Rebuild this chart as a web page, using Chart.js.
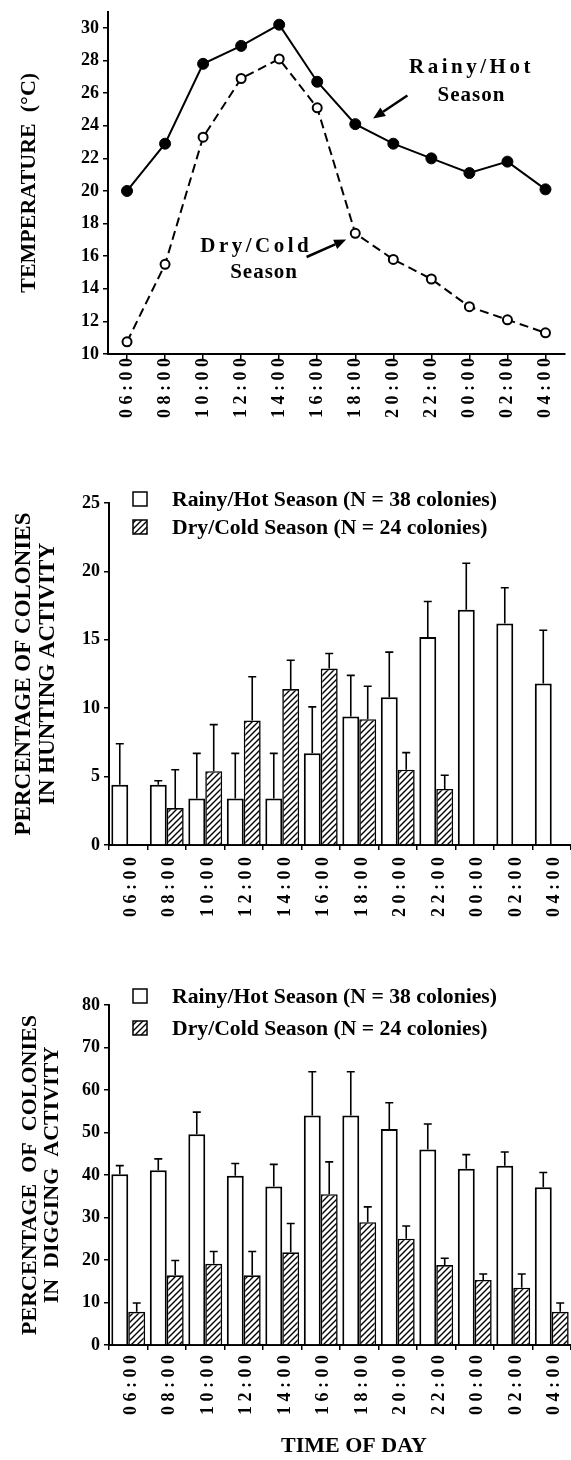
<!DOCTYPE html>
<html><head><meta charset="utf-8">
<script src="https://cdn.jsdelivr.net/npm/chart.js@4/dist/chart.umd.min.js"></script>
<style>
html,body{margin:0;padding:0;background:#fff;}
body{width:571px;height:1460px;position:relative;overflow:hidden;}
canvas{position:absolute;left:0;}
</style></head><body>
<canvas id="c1" width="571" height="440" style="top:0px"></canvas>
<canvas id="c2" width="571" height="490" style="top:440px"></canvas>
<canvas id="c3" width="571" height="530" style="top:930px"></canvas>
<script>
// ---------- data ----------
const timeLabels = ['06:00','08:00','10:00','12:00','14:00','16:00','18:00','20:00','22:00','00:00','02:00','04:00'];

const tempTicks = [10,12,14,16,18,20,22,24,26,28,30];
const tempRainy = [20.0, 22.9, 27.8, 28.9, 30.2, 26.7, 24.1, 22.9, 22.0, 21.1, 21.8, 20.1];
const tempDry   = [10.75, 15.5, 23.3, 26.9, 28.1, 25.1, 17.4, 15.8, 14.6, 12.9, 12.1, 11.3];

const huntTicks = [0,5,10,15,20,25];
const huntRainy    = [4.4, 4.4, 3.4, 3.4, 3.4, 6.7, 9.4, 10.8, 15.2, 17.2, 16.2, 11.8];
const huntRainyErr = [3.0, 0.3, 3.3, 3.3, 3.3, 3.4, 3.0, 3.3, 2.6, 3.4, 2.6, 3.9];
const huntDry      = [null, 2.7, 5.4, 9.1, 11.4, 12.9, 9.2, 5.5, 4.1, null, null, null];
const huntDryErr   = [null, 2.8, 3.4, 3.2, 2.1, 1.1, 2.4, 1.25, 1.0, null, null, null];

const digTicks = [0,10,20,30,40,50,60,70,80];
const digRainy    = [40.2, 41.1, 49.6, 39.8, 37.3, 54.0, 54.0, 50.8, 46.0, 41.5, 42.2, 37.1];
const digRainyErr = [2.0, 2.7, 5.2, 2.9, 5.2, 10.3, 10.3, 6.2, 6.0, 3.3, 3.2, 3.5];
const digDry      = [7.8, 16.4, 19.1, 16.4, 21.8, 35.5, 28.9, 25.0, 18.8, 15.3, 13.5, 7.8];
const digDryErr   = [2.1, 3.5, 2.9, 5.6, 6.8, 7.6, 3.6, 3.0, 1.6, 1.4, 3.2, 2.1];

const legendRainy = 'Rainy/Hot Season (N = 38 colonies)';
const legendDry   = 'Dry/Cold Season (N = 24 colonies)';

// ---------- styling helpers ----------
const FAM = "'Liberation Serif','Times New Roman',serif";
const BLACK = '#000';

function hatchPattern(canvasId) {
  const c = document.createElement('canvas'); c.width = 6; c.height = 6;
  const g = c.getContext('2d');
  g.fillStyle = '#fff'; g.fillRect(0,0,6,6);
  g.strokeStyle = BLACK; g.lineWidth = 1.4; g.beginPath();
  g.moveTo(0,6); g.lineTo(6,0);
  g.moveTo(-1,1); g.lineTo(1,-1);
  g.moveTo(5,7); g.lineTo(7,5);
  g.stroke();
  return document.getElementById(canvasId).getContext('2d').createPattern(c, 'repeat');
}

const xLabelPlugin = {
  id: 'xlabels',
  afterDraw(chart, args, opts) {
    const sx = chart.scales.x, ctx = chart.ctx;
    ctx.save();
    ctx.font = 'bold 18px ' + FAM;
    ctx.letterSpacing = opts.spacing + 'px';
    ctx.fillStyle = BLACK;
    ctx.textAlign = 'right'; ctx.textBaseline = 'middle';
    sx.ticks.forEach((t, i) => {
      const x = sx.getPixelForTick(i) + opts.dx;
      const y = chart.chartArea.bottom + opts.gap;
      ctx.save(); ctx.translate(x, y); ctx.rotate(-Math.PI/2);
      ctx.fillText(chart.data.labels[i], opts.spacing, 0);
      ctx.restore();
    });
    ctx.restore();
  }
};

const errorBarPlugin = {
  id: 'errbars',
  afterDatasetsDraw(chart) {
    const ctx = chart.ctx, sy = chart.scales.y;
    chart.data.datasets.forEach((ds, di) => {
      if (!ds.errors) return;
      const meta = chart.getDatasetMeta(di);
      meta.data.forEach((bar, i) => {
        const v = ds.data[i], e = ds.errors[i];
        if (v == null || e == null) return;
        const x = bar.x, y0 = sy.getPixelForValue(v), y1 = sy.getPixelForValue(v + e);
        ctx.save(); ctx.strokeStyle = BLACK; ctx.lineWidth = 1.6;
        ctx.beginPath(); ctx.moveTo(x, y0); ctx.lineTo(x, y1);
        ctx.moveTo(x - 4, y1); ctx.lineTo(x + 4, y1); ctx.stroke();
        ctx.restore();
      });
    });
  }
};

const boxLegendPlugin = {
  id: 'boxlegend',
  afterDraw(chart, args, opts) {
    const ctx = chart.ctx, top = chart.chartArea.top;
    chart.data.datasets.forEach((ds, i) => {
      const cy = top + opts.rows[i];
      ctx.save();
      ctx.fillStyle = ds.backgroundColor;
      ctx.fillRect(opts.boxX, cy - 7, 14, 14);
      ctx.strokeStyle = BLACK; ctx.lineWidth = 1.5;
      ctx.strokeRect(opts.boxX, cy - 7, 14, 14);
      ctx.font = 'bold 21.7px ' + FAM;
      ctx.fillStyle = BLACK; ctx.textBaseline = 'middle'; ctx.textAlign = 'left';
      ctx.fillText(ds.label, opts.textX, cy + 1);
      ctx.restore();
    });
  }
};

const annotPlugin = {
  id: 'annot',
  afterDatasetsDraw(chart, args, opts) {
    if (!opts.texts) return;
    const ctx = chart.ctx, sx = chart.scales.x, sy = chart.scales.y;
    const P = a => [sx.getPixelForValue(a[0]), sy.getPixelForValue(a[1])];
    opts.texts.forEach(t => {
      const [x, y] = P(t.at);
      ctx.save(); ctx.font = 'bold 21px ' + FAM; ctx.letterSpacing = t.spacing + 'px';
      ctx.fillStyle = BLACK; ctx.textAlign = 'center'; ctx.textBaseline = 'middle';
      ctx.fillText(t.text, x + t.spacing / 2, y); ctx.restore();
    });
    opts.arrows.forEach(a => {
      const [x0, y0] = P(a.from), [x1, y1] = P(a.to);
      const ang = Math.atan2(y1 - y0, x1 - x0), L = 12, W = 5;
      const bx = x1 - L * Math.cos(ang), by = y1 - L * Math.sin(ang);
      ctx.save(); ctx.strokeStyle = BLACK; ctx.fillStyle = BLACK; ctx.lineWidth = 2.5;
      ctx.beginPath(); ctx.moveTo(x0, y0); ctx.lineTo(bx, by); ctx.stroke();
      ctx.beginPath(); ctx.moveTo(x1, y1);
      ctx.lineTo(bx + W * Math.sin(ang), by - W * Math.cos(ang));
      ctx.lineTo(bx - W * Math.sin(ang), by + W * Math.cos(ang));
      ctx.closePath(); ctx.fill(); ctx.restore();
    });
  }
};

const titlePlugin = {
  id: 'xtitle',
  afterDraw(chart, args, opts) {
    if (!opts.text) return;
    const ctx = chart.ctx, ca = chart.chartArea;
    ctx.save();
    ctx.font = 'bold 22px ' + FAM; ctx.fillStyle = BLACK;
    ctx.textAlign = 'center'; ctx.textBaseline = 'middle';
    ctx.fillText(opts.text, (ca.left + ca.right) / 2 + opts.dx, ca.bottom + opts.dy);
    ctx.restore();
  }
};

function axisGrid() {
  return { drawOnChartArea: false, drawTicks: true, tickLength: 5, color: BLACK, lineWidth: 1.5 };
}
function yAxis(min, max, tickArr, width, titleText, titleSize, titleLH, titlePad) {
  return {
    min: min, max: max,
    afterBuildTicks: s => { s.ticks = tickArr.map(v => ({ value: v })); },
    ticks: { color: BLACK, padding: 4, font: { family: FAM, size: 18, weight: 'bold', lineHeight: 0.85 } },
    grid: axisGrid(),
    border: { color: BLACK, width: 2 },
    title: { display: true, text: titleText, color: BLACK,
             font: { family: FAM, size: titleSize, weight: 'bold', lineHeight: titleLH },
             padding: { top: titlePad, bottom: 0 } },
    afterFit: s => { s.width = width; }
  };
}
function xAxis(height) {
  return {
    offset: true,
    ticks: { display: false },
    grid: axisGrid(),
    border: { color: BLACK, width: 2 },
    afterFit: s => { s.height = height; }
  };
}
const common = { responsive: false, animation: false, events: [] };

// ---------- chart 1: temperature ----------
new Chart(document.getElementById('c1'), {
  type: 'line',
  data: { labels: timeLabels, datasets: [
    { label: 'Rainy/Hot Season', data: tempRainy, borderColor: BLACK, borderWidth: 2,
      pointRadius: 5.5, pointBackgroundColor: BLACK, pointBorderColor: BLACK, pointBorderWidth: 1, tension: 0 },
    { label: 'Dry/Cold Season', data: tempDry, borderColor: BLACK, borderWidth: 2, borderDash: [9, 5],
      pointRadius: 4.5, pointBackgroundColor: '#fff', pointBorderColor: BLACK, pointBorderWidth: 2, tension: 0 }
  ]},
  options: Object.assign({}, common, {
    layout: { padding: { top: 8, left: 0, right: 0, bottom: 0 } },
    scales: { x: xAxis(86), y: yAxis(10, 31, tempTicks, 108, 'TEMPERATURE  (°C)', 22, 1.2, 16) },
    plugins: { legend: { display: false }, tooltip: { enabled: false },
      xlabels: { gap: 4, dx: 0, spacing: 4.5 },
      annot: {
        texts: [
          { text: 'Rainy/Hot', at: [9.01, 27.54], spacing: 3.5 },
          { text: 'Season', at: [9.04, 25.84], spacing: 1 },
          { text: 'Dry/Cold', at: [3.35, 16.62], spacing: 3.5 },
          { text: 'Season', at: [3.59, 15.0], spacing: 1 }
        ],
        arrows: [
          { from: [7.37, 25.86], to: [6.47, 24.45] },
          { from: [4.72, 15.95], to: [5.76, 17.02] }
        ]
      }
    }
  }),
  plugins: [xLabelPlugin, annotPlugin]
});

// ---------- bar chart builder ----------
function barChart(id, rainy, rainyErr, dry, dryErr, ymax, ticks, padTop, xH, titleLines, titleSize, titleLH, titlePad, legendRows, labelGap, xtitle) {
  return new Chart(document.getElementById(id), {
    type: 'bar',
    data: { labels: timeLabels, datasets: [
      { label: legendRainy, data: rainy, errors: rainyErr, backgroundColor: '#fff', borderColor: BLACK,
        borderWidth: 2, borderSkipped: 'bottom', categoryPercentage: 0.88, barPercentage: 1.0 },
      { label: legendDry, data: dry, errors: dryErr, backgroundColor: hatchPattern(id), borderColor: BLACK,
        borderWidth: 1.6, borderSkipped: 'bottom', categoryPercentage: 0.88, barPercentage: 1.0 }
    ]},
    options: Object.assign({}, common, {
      layout: { padding: { top: padTop, left: 0, right: 0, bottom: 0 } },
      scales: { x: xAxis(xH), y: yAxis(0, ymax, ticks, 109, titleLines, titleSize, titleLH, titlePad) },
      plugins: { legend: { display: false }, tooltip: { enabled: false },
        xlabels: { gap: labelGap, dx: 3, spacing: 4.5 },
        boxlegend: { rows: legendRows, boxX: 133, textX: 172 },
        xtitle: xtitle
      }
    }),
    plugins: [errorBarPlugin, xLabelPlugin, boxLegendPlugin, titlePlugin]
  });
}

barChart('c2', huntRainy, huntRainyErr, huntDry, huntDryErr, 25, huntTicks, 63, 85,
  ['PERCENTAGE OF COLONIES', 'IN HUNTING ACTIVITY'], 23, 1.04, 12, [-4, 24], 12, {});
barChart('c3', digRainy, digRainyErr, digDry, digDryErr, 80, digTicks, 75, 115,
  ['PERCENTAGE  OF  COLONIES', 'IN  DIGGING  ACTIVITY'], 22, 1.0, 19, [-9, 23], 10,
  { text: 'TIME OF DAY', dx: 14, dy: 101 });
</script>
</body></html>
